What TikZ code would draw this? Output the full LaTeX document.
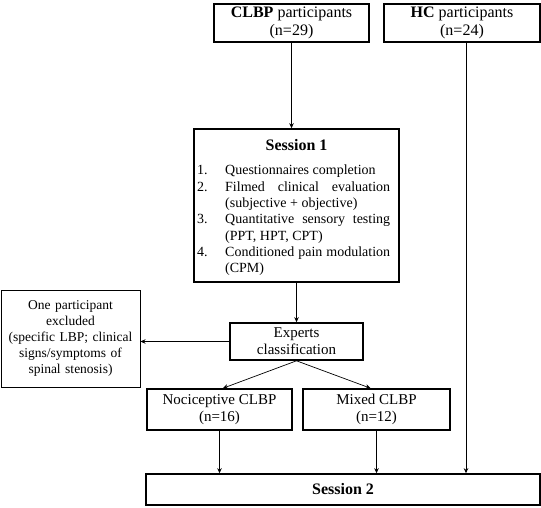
\documentclass[tikz,border=0pt]{standalone}
\usepackage{fontspec}
\setmainfont{Liberation Serif}
\usetikzlibrary{arrows.meta}
\begin{document}
\begin{tikzpicture}[x=1pt,y=-1pt,
  box/.style={draw, line width=1.6pt, rectangle, align=center, inner sep=2pt},
  arr/.style={-{Stealth[length=5pt,width=4.5pt]}, line width=0.7pt},
  item/.style={}]
\useasboundingbox (0,0) rectangle (541,507);
\node[box, minimum width=155pt, minimum height=38pt, font=\fontsize{16}{18}\selectfont] (clbp) at (291.5,23)
  {\textbf{CLBP} participants\\(n=29)};
\node[box, minimum width=156pt, minimum height=38pt, font=\fontsize{16}{18}\selectfont] (hc) at (462,23)
  {\textbf{HC} participants\\(n=24)};
\node[box, minimum width=205pt, minimum height=153pt] (s1) at (296.5,205.5) {};
\node[font=\fontsize{16}{18}\selectfont\bfseries, inner sep=0pt] (s1t) at (296.5,145) {Session 1};
\node[anchor=north west, inner sep=0pt, text width=193pt, align=justify,
  font=\fontsize{14}{16.3}\selectfont] (s1l) at (197,165)
  {\hyphenpenalty=10000
   \hangindent=28pt\hangafter=1\noindent\makebox[28pt][l]{1.}Questionnaires completion\par
   \hangindent=28pt\hangafter=1\noindent\makebox[28pt][l]{2.}Filmed clinical evaluation (subjective + objective)\par
   \hangindent=28pt\hangafter=1\noindent\makebox[28pt][l]{3.}Quantitative sensory testing (PPT, HPT, CPT)\par
   \hangindent=28pt\hangafter=1\noindent\makebox[28pt][l]{4.}Conditioned pain modulation (CPM)\par};
\node[box, minimum width=133pt, minimum height=37pt, font=\fontsize{15}{17}\selectfont] (exp) at (296.5,341.5)
  {Experts\\classification};
\node[box, line width=1pt, minimum width=139pt, minimum height=97pt, text width=134pt,
  font=\fontsize{13.5}{16}\selectfont] (excl) at (70.5,338.5)
  {One participant\\excluded\\(specific LBP; clinical\\signs/symptoms of\\spinal stenosis)};
\node[box, minimum width=145pt, minimum height=41pt, font=\fontsize{15}{17.5}\selectfont] (noci) at (219.5,409.5)
  {Nociceptive CLBP\\(n=16)};
\node[box, minimum width=147pt, minimum height=41pt, font=\fontsize{15}{17.5}\selectfont] (mixed) at (376.5,409.5)
  {Mixed CLBP\\(n=12)};
\node[box, minimum width=394pt, minimum height=31pt, font=\fontsize{16}{18}\selectfont] (s2) at (343,489.5)
  {\textbf{Session 2}};
\draw[arr] (clbp.south) -- (clbp.south |- s1.north);
\draw[arr] (s1.south) -- (s1.south |- exp.north);
\draw[arr] ([xshift=4pt]hc.south) -- ([xshift=4pt]hc.south |- s2.north);
\draw[arr] (exp.west) -- (exp.west -| excl.east);
\draw[arr] (exp.south) -- ([xshift=3.5pt]noci.north);
\draw[arr] (exp.south) -- ([xshift=-6pt]mixed.north);
\draw[arr] (noci.south) -- (noci.south |- s2.north);
\draw[arr] (mixed.south) -- (mixed.south |- s2.north);
\end{tikzpicture}
\end{document}
